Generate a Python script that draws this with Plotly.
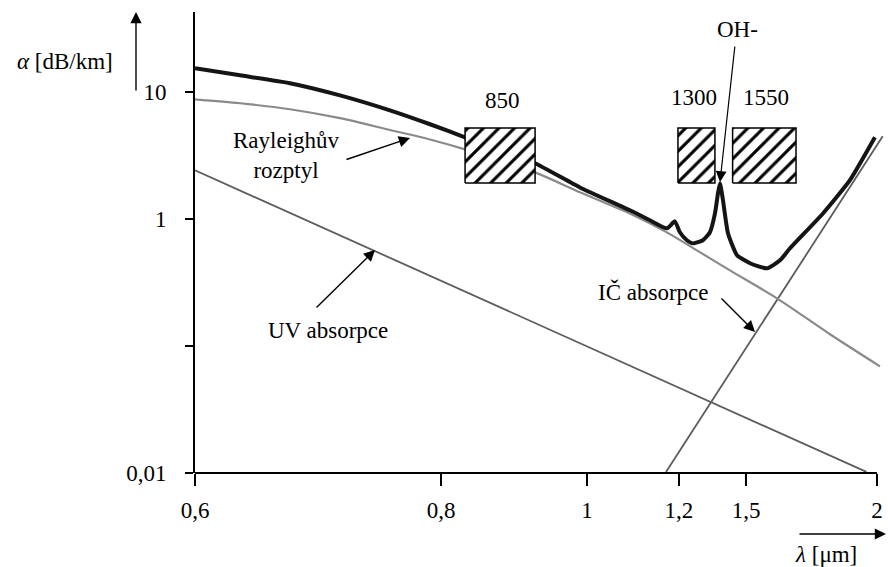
import numpy as np
import plotly.graph_objects as go

# ---- axis scale (hand-drawn, non-uniform wavelength axis) ----
scale_lam = [0.6, 0.8, 1.0, 1.2, 1.5, 2.0, 2.1]
scale_pos = [0.0, 1.0, 1.593, 1.967, 2.240, 2.772, 2.879]
tick_lam = [0.6, 0.8, 1.0, 1.2, 1.5, 2.0]
tick_text = ["0,6", "0,8", "1", "1,2", "1,5", "2"]
y_tick_vals = [0.01, 0.1, 1, 10]
y_tick_text = ["0,01", "", "1", "10"]

# ---- data (wavelength in µm, attenuation in dB/km) ----
total_lam = [0.6, 0.6366, 0.6772, 0.7179, 0.7585, 0.7911, 0.8329, 0.8808, 0.9288,
             0.9904, 1.0935, 1.137, 1.174, 1.1913, 1.2045, 1.2358, 1.2627, 1.3075,
             1.3388, 1.3612, 1.3746, 1.3836, 1.397, 1.4194, 1.4597, 1.5153, 1.5802,
             1.6298, 1.6679, 1.7939, 1.8969, 1.9924]
total_att = [15.45, 13.6, 11.8, 9.46, 7.21, 5.60, 4.42, 3.49, 2.76,
             1.78, 1.175, 0.98, 0.847, 0.962, 0.789, 0.683, 0.645, 0.683,
             0.789, 1.11, 1.60, 1.92, 1.41, 0.775, 0.520, 0.450, 0.410,
             0.474, 0.590, 1.11, 2.03, 4.42]

rayleigh_lam = [0.6, 0.6366, 0.6772, 0.7179, 0.7585, 0.7911, 0.8329, 0.9288, 0.9904,
                1.0935, 1.1739, 1.2806, 1.4284, 1.6183, 1.8206, 2.0115]
rayleigh_att = [8.81, 8.2, 7.35, 6.25, 5.05, 4.25, 3.55, 2.34, 1.63,
                1.11, 0.787, 0.568, 0.395, 0.238, 0.124, 0.0693]

uv_lam = [0.6, 0.8, 1.0, 1.2, 1.5, 1.96]
uv_att = [2.43, 0.327, 0.0996, 0.047, 0.0272, 0.0102]

ir_lam = [1.172, 1.2, 1.5, 2.0, 2.022]
ir_att = [0.0102, 0.01465, 0.0964, 3.83, 4.50]

window_labels = ["850", "1300", "1550"]
window_lam_lo = [0.833, 1.198, 1.440]
window_lam_hi = [0.929, 1.361, 1.691]
window_att_lo = 1.93
window_att_hi = 5.23


def u(lam):
    return np.interp(np.asarray(lam, dtype=float), scale_lam, scale_pos)


FONT = "'Liberation Serif', 'Times New Roman', serif"
FS = 23

W, H = 888, 567
ML, MR, MT, MB = 195, 0, 12, 94
PW, PH = W - ML - MR, H - MT - MB


def px(x):
    return (x - ML) / PW


def py(y):
    return (H - MB - y) / PH


fig = go.Figure()

fig.add_trace(go.Scatter(x=u(uv_lam), y=uv_att, mode="lines",
                         line=dict(color="#5c5c5c", width=1.8), hoverinfo="skip"))
fig.add_trace(go.Scatter(x=u(ir_lam), y=ir_att, mode="lines",
                         line=dict(color="#5c5c5c", width=1.8), hoverinfo="skip"))
fig.add_trace(go.Scatter(x=u(rayleigh_lam), y=rayleigh_att, mode="lines",
                         line=dict(color="#8a8a8a", width=2.2, shape="spline", smoothing=0.8),
                         hoverinfo="skip"))
fig.add_trace(go.Scatter(x=u(total_lam), y=total_att, mode="lines",
                         line=dict(color="#151515", width=4, shape="spline", smoothing=0.5),
                         hoverinfo="skip"))

for lo, hi in zip(window_lam_lo, window_lam_hi):
    xs = u([lo, hi, hi, lo, lo])
    ys = [window_att_lo, window_att_lo, window_att_hi, window_att_hi, window_att_lo]
    fig.add_trace(go.Scatter(x=xs, y=ys, mode="lines", fill="toself",
                             fillcolor="white",
                             fillpattern=dict(shape="/", fgcolor="black", bgcolor="white",
                                              fgopacity=1, size=11, solidity=0.28),
                             line=dict(color="black", width=1.5), hoverinfo="skip"))

shapes = [dict(type="line", xref="x", yref="paper", x0=float(u(0.6)), x1=float(u(2.0)),
               y0=0, y1=0, line=dict(color="black", width=2))]

ann = []


def text(t, x, y, **kw):
    ann.append(dict(text=t, x=px(x), y=py(y), xref="paper", yref="paper",
                    showarrow=False, xanchor="center", yanchor="middle",
                    font=dict(family=FONT, size=FS, color="black"), **kw))


def arrow(xt, yt, ax, ay, size=1.6, width=1.4):
    ann.append(dict(text="", x=px(xt), y=py(yt), xref="paper", yref="paper",
                    showarrow=True, arrowhead=2, arrowsize=size, arrowwidth=width,
                    arrowcolor="black", ax=ax, ay=ay))


text("<i>α</i> [dB/km]", 65, 61)
arrow(136, 12, 0, 80)
text("<i>λ</i> [μm]", 826, 554)
arrow(886, 534, -88, 0)
text(window_labels[0], 502, 100)
text(window_labels[1], 694, 97)
text(window_labels[2], 766, 97)
text("OH-", 737, 30)
arrow(720, 182, 15, -137, size=1.8, width=1.2)
text("Rayleighův<br>rozptyl", 286, 155)
arrow(410, 138, -65, 22)
text("UV absorpce", 328, 330)
arrow(375, 250, -60, 59)
text("IČ absorpce", 653, 292)
arrow(755, 332, -35, -35)

fig.update_layout(
    width=W, height=H,
    margin=dict(l=ML, r=MR, t=MT, b=MB, pad=0),
    paper_bgcolor="white", plot_bgcolor="white",
    showlegend=False,
    shapes=shapes, annotations=ann,
    font=dict(family=FONT, size=FS, color="black"),
)
fig.update_xaxes(range=[0, (W - ML) / 246.0], showgrid=False, zeroline=False, showline=False,
                 tickmode="array", tickvals=list(u(tick_lam)), ticktext=tick_text,
                 ticks="outside", ticklen=12, tickwidth=1.5, tickcolor="black",
                 ticklabelstandoff=4,
                 tickfont=dict(family=FONT, size=FS, color="black"))
fig.update_yaxes(type="log", range=[-2, -2 + (H - MB - MT) / 126.9], showgrid=False,
                 zeroline=False, showline=True, linecolor="black", linewidth=2,
                 tickmode="array", tickvals=y_tick_vals, ticktext=y_tick_text,
                 ticks="outside", ticklen=8, tickwidth=1.5, tickcolor="black",
                 ticklabelstandoff=14,
                 tickfont=dict(family=FONT, size=FS, color="black"))

fig.write_html("out.html")
